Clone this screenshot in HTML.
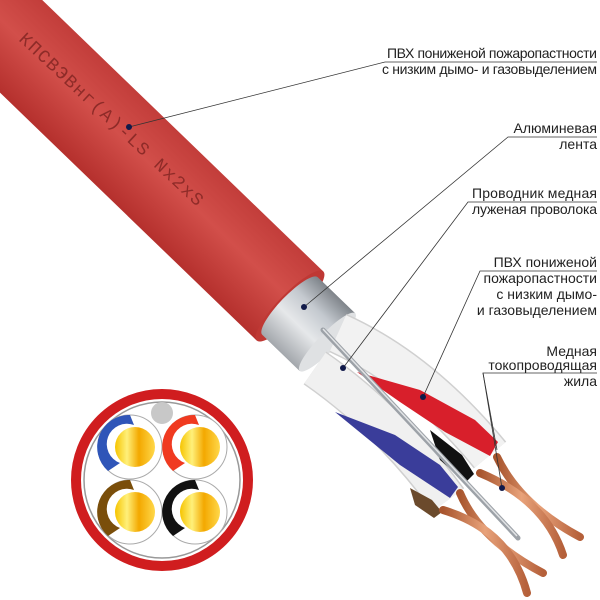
<!DOCTYPE html>
<html><head><meta charset="utf-8"><style>
html,body{margin:0;padding:0;background:#fff;width:600px;height:600px;overflow:hidden}
svg{display:block}
text{font-family:"Liberation Sans","DejaVu Sans",sans-serif;font-size:14px;fill:#222}
</style></head><body>
<svg width="600" height="600" viewBox="0 0 600 600" xmlns="http://www.w3.org/2000/svg">
<defs>
<linearGradient id="red" x1="0" y1="0" x2="0" y2="1">
<stop offset="0" stop-color="#c23d3a"/><stop offset="0.45" stop-color="#d24f4a"/><stop offset="1" stop-color="#b5302d"/></linearGradient>
<linearGradient id="silv" x1="0" y1="0" x2="0" y2="1">
<stop offset="0" stop-color="#7f848a"/><stop offset="0.3" stop-color="#c4c9cf"/><stop offset="0.6" stop-color="#e6e8ea"/><stop offset="1" stop-color="#a3a7ac"/></linearGradient>
<linearGradient id="cu" x1="0" y1="0" x2="1" y2="0">
<stop offset="0" stop-color="#a8552e"/><stop offset="0.5" stop-color="#e8a27a"/><stop offset="1" stop-color="#b5603a"/></linearGradient>
<linearGradient id="gold" x1="0" y1="0" x2="1" y2="0">
<stop offset="0" stop-color="#f6c400"/><stop offset="0.3" stop-color="#fff07a"/><stop offset="0.6" stop-color="#f3a800"/><stop offset="1" stop-color="#ffd84a"/></linearGradient>
</defs>

<!-- cable jacket + aluminium -->
<g transform="translate(290,306) rotate(44)">
<rect x="-600" y="-48" width="600" height="96" fill="url(#red)"/>
<rect x="0" y="-40" width="52" height="80" fill="url(#silv)"/>
<ellipse cx="0" cy="0" rx="12" ry="48" fill="#bf3834"/>
<path d="M0,-40 A10,40 0 0,0 0,40 L52,40 L52,-40 Z" fill="url(#silv)"/>
<ellipse cx="52" cy="0" rx="9" ry="40" fill="#dfe1e3"/>
</g>

<!-- white insulated pairs -->
<g fill="none" stroke-linecap="butt">
<path d="M338,333 Q420,370 490,455" stroke="#d0d0d0" stroke-width="42"/>
<path d="M338,333 Q420,370 490,455" stroke="#f2f2f2" stroke-width="39"/>
<path d="M315,368 Q390,420 448,500" stroke="#d0d0d0" stroke-width="40"/>
<path d="M315,368 Q390,420 448,500" stroke="#f0f0f0" stroke-width="37"/>
</g>
<!-- stripes -->
<polygon points="357,372 420,390 475,420 498,442 490,456 445,432 400,402" fill="#d81f2b"/>
<polygon points="430,430 462,455 474,474 466,482 440,460" fill="#111"/>
<polygon points="335,412 395,435 440,465 458,487 450,498 400,465" fill="#3a3d9a"/>
<polygon points="410,488 432,500 442,512 434,518 415,505" fill="#6b4a2c"/>
<!-- copper -->
<g fill="none" stroke="url(#cu)" stroke-width="8" stroke-linecap="round">
<path d="M497,457 Q520,505 580,537"/>
<path d="M480,473 Q545,500 563,555"/>
<path d="M460,493 Q480,540 543,573"/>
<path d="M443,510 Q510,530 527,593"/>
</g>
<!-- drain wire -->
<line x1="323" y1="330" x2="518" y2="538" stroke="#9da2a8" stroke-width="5" stroke-linecap="round"/>
<line x1="323" y1="329" x2="517" y2="536" stroke="#e2e4e6" stroke-width="1.5"/>

<!-- marking -->
<text x="18" y="40" transform="rotate(43 18 40)" style="font-family:'Liberation Mono',monospace;font-size:18px;fill:#8e2b28;letter-spacing:1.5px">КПСВЭВнг(А)-LS Nx2xS</text>

<!-- cross-section -->
<circle cx="162" cy="480" r="86" fill="#fff" stroke="#d01d1f" stroke-width="10"/>
<circle cx="162" cy="480" r="78" fill="none" stroke="#999" stroke-width="1.5"/>
<circle cx="162" cy="413" r="11" fill="#c8c8c8"/>
<g stroke="#aaa" stroke-width="1" fill="#fff">
<circle cx="130" cy="447" r="32"/><circle cx="195" cy="447" r="32"/>
<circle cx="130" cy="512" r="32"/><circle cx="195" cy="512" r="32"/>
</g>
<path d="M130,415 A32,32 0 0,0 108,471 L120,463 A20,20 0 0,1 134,425 Z" fill="#2f55b8"/>
<path d="M195,415 A32,32 0 0,0 173,471 L185,463 A20,20 0 0,1 199,425 Z" fill="#f03a20"/>
<path d="M130,480 A32,32 0 0,0 108,536 L120,528 A20,20 0 0,1 134,490 Z" fill="#7a4e0a"/>
<path d="M195,480 A32,32 0 0,0 173,536 L185,528 A20,20 0 0,1 199,490 Z" fill="#111"/>
<circle cx="135" cy="447" r="20" fill="url(#gold)"/>
<circle cx="200" cy="447" r="20" fill="url(#gold)"/>
<circle cx="135" cy="512" r="20" fill="url(#gold)"/>
<circle cx="200" cy="512" r="20" fill="url(#gold)"/>

<!-- leaders -->
<g stroke="#333" stroke-width="0.8" fill="none">
<polyline points="129,127 385,62 597,62"/>
<polyline points="304,307 508,137 597,137"/>
<polyline points="343,368 468,202 597,202"/>
<polyline points="423,397 480,271 597,271"/>
<polyline points="497,450 483,373 597,373"/>
<line x1="483" y1="373" x2="502" y2="488"/>
</g>
<g fill="#111a4a">
<circle cx="129" cy="127" r="3"/><circle cx="304" cy="307" r="3"/>
<circle cx="343" cy="368" r="3"/><circle cx="423" cy="397" r="3"/>
<circle cx="502" cy="488" r="3"/>
</g>

<!-- labels -->
<g text-anchor="end">
<text x="597" y="58" textLength="210">ПВХ пониженой пожаропастности</text>
<text x="597" y="74" textLength="215">с низким дымо- и газовыделением</text>
<text x="597" y="133">Алюминевая</text>
<text x="597" y="149">лента</text>
<text x="597" y="198" textLength="125">Проводник медная</text>
<text x="597" y="214" textLength="125">луженая проволока</text>
<text x="597" y="267">ПВХ пониженой</text>
<text x="597" y="283">пожаропастности</text>
<text x="597" y="299">с низким дымо-</text>
<text x="597" y="315">и газовыделением</text>
<text x="597" y="356">Медная</text>
<text x="597" y="370">токопроводящая</text>
<text x="597" y="386">жила</text>
</g>
</svg>
</body></html>
